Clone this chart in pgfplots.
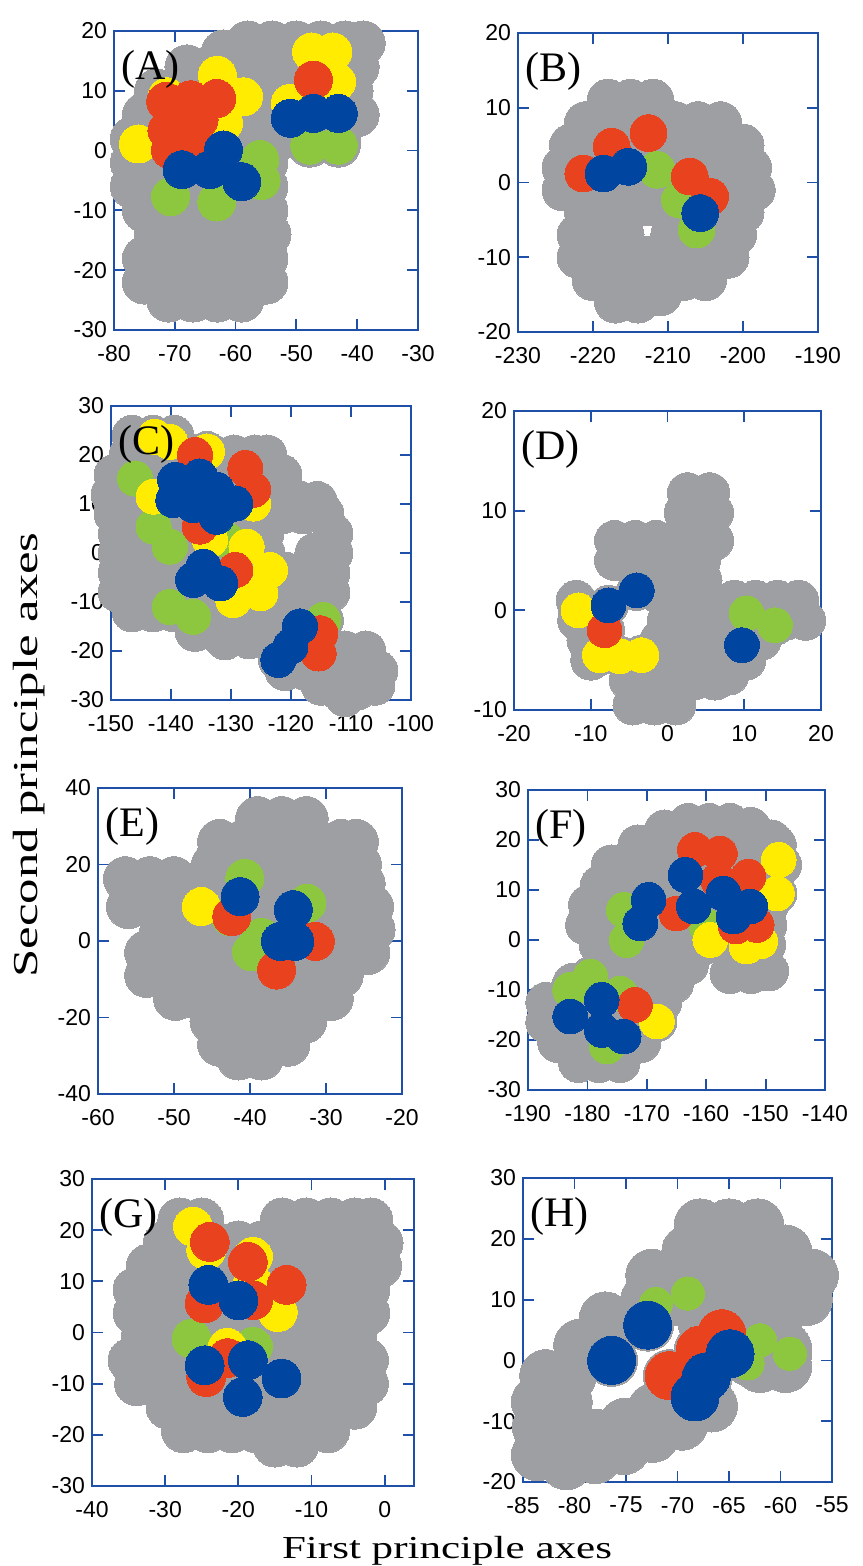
\documentclass[border=0pt]{standalone}
\usepackage{fontspec}
\setmainfont{Liberation Serif}
\setsansfont{Liberation Sans}
\usepackage{graphicx}
\usepackage{pgfplots}
\usepackage{pgfplotstable}
\pgfplotsset{compat=1.18}
\definecolor{cgray}{RGB}{158,159,163}
\definecolor{cyellow}{RGB}{255,236,0}
\definecolor{cred}{RGB}{233,66,30}
\definecolor{cgreen}{RGB}{141,198,63}
\definecolor{cblue}{RGB}{0,70,160}
\definecolor{axisblue}{RGB}{30,80,170}
\pgfplotsset{
  panel/.style={scale only axis, clip=false, anchor=south west,
    axis line style={axisblue, line width=0.9pt},
    tick style={axisblue, line width=0.9pt},
    major tick length=5.5pt, tick align=inside,
    ticklabel style={font=\sffamily\fontsize{11.5}{11.5}\selectfont, black},
    /pgf/number format/assume math mode=true,
    xticklabel style={yshift=-4pt},
    minor tick num=0},
  gdot/.style={only marks, mark=*, mark size=#1, color=cgray, mark options={fill=cgray, draw=cgray, line width=0pt}},
  cdot/.style 2 args={only marks, mark=*, mark size=#2, color=#1, mark options={fill=#1, draw=#1, line width=0pt}},
}
\tikzset{plabel/.style={anchor=north west, inner sep=0pt, xshift=3.5pt, yshift=-9.5pt, font=\fontsize{21}{21}\selectfont}}
% ---------------- Panel A
\pgfplotstableread{
x y
-62 16.5
-58 18
-54 18
-50 18
-46 18
-42 18
-39 18
-68 14
-64 14
-60 14
-56 14
-52 14
-48 14
-44 14
-40 14
-73 10
-69 10
-65 10
-61 10
-57 10
-53 10
-49 10
-45 10
-41 10
-75 6
-71 6
-67 6
-63 6
-59 6
-55 6
-51 6
-47 6
-43 6
-40 6
-77 2
-73 2
-69 2
-65 2
-61 2
-57 2
-53 2
-49 2
-45 2
-43 2
-77 -2
-73 -2
-69 -2
-65 -2
-61 -2
-57 -2
-55 -2
-77 -6
-73 -6
-69 -6
-65 -6
-61 -6
-57 -6
-55 -6
-75 -10
-71 -10
-67 -10
-63 -10
-59 -10
-55 -10
-73 -14
-69 -14
-65 -14
-61 -14
-57 -14
-54.5 -14
-75 -18
-71 -18
-67 -18
-63 -18
-59 -18
-55 -18
-75 -22
-71 -22
-67 -22
-63 -22
-59 -22
-55 -22
-71 -25
-67 -25
-63 -25
-59 -25
}\Agray
\pgfplotstableread{
x y
-70.7 -7.7
-63.1 -8.6
-56 -1.5
-55.8 -5
-47.8 0.9
-43.1 0.9
}\Agreen
\pgfplotstableread{
x y
-76 1.1
-71.3 9
-63 12.6
-58.7 9
-62 4.6
-47.5 16.5
-44 16.5
-51 7.9
-43.4 11.5
}\Ayellow
\pgfplotstableread{
x y
-71.5 8.2
-67.4 8.5
-63.1 8.7
-71.3 3.4
-70.7 0.1
-67.4 1.8
-66 5.2
-47.2 11.8
}\Ared
\pgfplotstableread{
x y
-68.8 -3.2
-64.2 -3.2
-62 0.1
-59 -5.2
-51 5.4
-47.2 6.2
-43.1 6.2
}\Ablue
% ---------------- Panel B
\pgfplotstableread{
x y
-218 11
-215 11
-212 11
-221 8
-218 8
-215 8
-212 8
-209 8
-206 8
-203 8
-223 5
-220 5
-217 5
-214 5
-211 5
-208 5
-205 5
-202 5
-200 5
-224 2
-221 2
-218 2
-215 2
-212 2
-209 2
-206 2
-203 2
-200 2
-199 2
-224 -1
-221 -1
-218 -1
-215 -1
-212 -1
-209 -1
-206 -1
-203 -1
-200 -1
-198.5 -1
-221 -4
-218 -4
-215.5 -4
-212.5 -3
-209.5 -4
-206.5 -4
-203.5 -4
-200 -4
-222 -7
-219 -7
-216 -7
-209.5 -7
-206.5 -7
-203.5 -7
-201 -7
-222 -10
-219 -10
-216 -10
-213 -10
-210 -10
-207 -10
-204 -10
-202 -10
-220 -13
-217 -13
-214 -13
-211 -13
-208 -13
-205 -13
-217 -16
-214 -16
-211 -15
}\Bgray
\pgfplotstableread{
x y
-211.5 1.7
-208.4 -2.3
-206.2 -6.3
}\Bgreen
\pgfplotstableread{
x y
-212.6 6.6
-217.5 4.8
-221.3 1.2
-207.1 0.8
-204.4 -1.9
}\Bred
\pgfplotstableread{
x y
-218.6 1.2
-215.3 2.1
-205.7 -4.1
}\Bblue
% ---------------- Panel C
\pgfplotstableread{
x y
-146.5 24
-143 24
-139.5 24
-147 20
-143.5 20
-140 20
-136.5 20
-133 20
-129.5 20
-126 20
-124 20
-149.5 16
-146 16
-142.5 16
-139 16
-135.5 16
-132 16
-128.5 16
-125 16
-121.5 16
-150 12
-146.5 12
-143 12
-139.5 12
-136 12
-132.5 12
-129 12
-125.5 12
-122 12
-118.5 10.5
-115.6 10.5
-149.5 8
-146 8
-142.5 8
-139 8
-135.5 8
-132 8
-128.5 8
-125 8
-121.5 8
-118 8
-114.5 8
-148.8 4
-145.5 4
-142 4
-138.5 4
-135 4
-131.5 4
-128 4
-124.5 4
-113 4
-148.8 0
-145.3 0
-141.8 0
-138.3 0
-134.8 0
-131.3 0
-127.8 0
-124.3 0
-116 0
-113 0
-148.8 -4
-145.3 -4
-141.8 -4
-138.3 -4
-134.8 -4
-131.3 -4
-127.8 -4
-124.3 -4
-120.8 -4
-117.3 -4
-113.5 -4
-148.8 -8
-145.3 -8
-141.8 -8
-138.3 -8
-134.8 -8
-131.3 -8
-127.8 -8
-124.3 -8
-120.8 -8
-117.3 -8
-113.5 -8
-146.5 -12
-143 -12
-139.5 -12
-136 -12
-132.5 -12
-129 -12
-125.5 -12
-122 -12
-118.5 -12
-115 -12
-136 -16
-132.5 -16
-129 -16
-125.5 -16
-122 -16
-118.5 -16
-115 -16
-131 -17.7
-127 -17.5
-121.5 -20
-118 -20
-114.5 -20
-111 -20
-107.5 -20
-121 -24
-117.5 -24
-114 -24
-110.5 -24
-107 -24
-105.5 -24
-115 -27
-112 -28
-109 -28
-106 -27
-111 -29.3
}\Cgray
\pgfplotstableread{
x y
-146 15.2
-142.9 5.4
-140.2 1.3
-130.7 2.7
-140.2 -11
-136.3 -13
-114.6 -13.7
}\Cgreen
\pgfplotstableread{
x y
-142.7 23.7
-140.2 22.7
-134 20.7
-126.3 10.1
-142.9 11.5
-133.5 2.7
-127.4 1.3
-123.5 -3.5
-129.6 -9.6
-125.1 -8.2
}\Cyellow
\pgfplotstableread{
x y
-136 20
-127.6 17.3
-126.3 12.9
-135.2 5.4
-129.3 -3.5
-115.1 -16.4
-115.4 -20.5
}\Cred
\pgfplotstableread{
x y
-139.3 14.9
-135.2 15.6
-139.6 10.8
-136.3 9.8
-132.4 7.4
-129.3 10.1
-132.4 12.9
-136.3 -5.5
-131.8 -6.2
-134.6 -2.8
-118.5 -15
-120.1 -19.1
-122.1 -21.8
}\Cblue
% ---------------- Panel D
\pgfplotstableread{
x y
2.6 11.8
5.5 11.8
2.2 9.8
5 9.8
6 9.8
-6.9 7
-4.2 7
-1.5 7
1.3 7
4 7
6 7
-6.9 5
-4.2 5
-1.5 5
2.3 5
4.3 5
2.5 3
4.5 3
-0.8 1.5
-11.9 1
1.5 1
4.3 1
8.7 1
11.5 1
14.3 1
17.1 1
-11.7 -1
0 -1
1.5 -1
4.3 -1
7 -1
9.8 -1
12.6 -1
15.4 -1
18 -1
-10.5 -3
-1 -3
1 -3
3.8 -3
6.6 -3
9.4 -3
12.2 -3
-10 -5
-1 -5
1.8 -5
4.6 -5
7.4 -5
10.2 -5
-5 -7
-2.2 -7
0.6 -7
3.4 -7
6.2 -7
8 -6.5
-4.5 -9.5
-1.7 -9.5
1.1 -9.5
}\Dgray
\pgfplotstableread{
x y
10.3 -0.3
14 -1.5
}\Dgreen
\pgfplotstableread{
x y
-11.6 0
-8.8 -4.5
-6.2 -4.6
-3.4 -4.5
}\Dyellow
\pgfplotstableread{
x y
-8.2 -2
}\Dred
\pgfplotstableread{
x y
-7.7 0.5
-4 2
9.7 -3.5
}\Dblue
% ---------------- Panel E
\pgfplotstableread{
x y
-39 32
-35.8 32
-32.6 32
-44 26
-40.8 26
-37.6 26
-34.4 26
-31.2 26
-28 26
-26 26
-44.8 20
-41.6 20
-38.4 20
-35.2 20
-32 20
-28.8 20
-25.6 20
-56.4 16.3
-53.2 16.3
-50 16.3
-46.8 15
-43.6 15
-40.4 15
-37.2 15
-34 15
-30.8 15
-27.6 15
-25.1 15
-56 9
-52.8 9
-49.6 9
-46.4 9
-43.2 9
-40 9
-36.8 9
-33.6 9
-30.4 9
-27.2 9
-24 9
-51.6 3
-48.4 3
-45.2 3
-42 3
-38.8 3
-35.6 3
-32.4 3
-29.2 3
-26 3
-23.8 3
-53.6 -3
-50.4 -3
-47.2 -3
-44 -3
-40.8 -3
-37.6 -3
-34.4 -3
-31.2 -3
-28 -3
-24.5 -3
-53.6 -9
-50.4 -9
-47.2 -9
-44 -9
-40.8 -9
-37.6 -9
-34.4 -9
-31.2 -9
-28 -9
-49.8 -15
-46.6 -15
-43.4 -15
-40.2 -15
-37 -15
-33.8 -15
-30.6 -15
-29.3 -15
-45 -21
-41.8 -21
-38.6 -21
-35.4 -21
-32.8 -21
-44 -27
-40.8 -27
-37.6 -27
-35 -27
-41.5 -30.6
-38.5 -30.6
}\Egray
\pgfplotstableread{
x y
-40.7 16.4
-42.6 6.4
-32.5 9.9
-39.8 -2.8
-38.5 1
}\Egreen
\pgfplotstableread{
x y
-46.4 9
}\Eyellow
\pgfplotstableread{
x y
-42.4 6.4
-31.4 -0.1
-36.5 -7.6
}\Ered
\pgfplotstableread{
x y
-41.3 11.6
-34.3 8.2
-36 -0.1
-34.1 -0.1
}\Eblue
% ---------------- Panel F
\pgfplotstableread{
x y
-167 22
-163 23.3
-159.5 23.3
-156 23.3
-152.5 22.5
-149 20
-171.5 19
-169.8 19
-166.3 19
-162.8 19
-159.3 19
-155.8 19
-152.3 19
-148.2 19
-176 15
-172.5 15
-169 15
-165.5 15
-162 15
-158.5 15
-155 15
-151.5 15
-147.3 15
-177.8 11
-174.3 11
-170.8 11
-167.3 11
-163.8 11
-160.3 11
-156.8 11
-153.3 11
-149.8 11
-148.7 11
-179.8 7
-176.3 7
-172.8 7
-169.3 7
-165.8 7
-162.3 7
-158.8 7
-155.3 7
-151.8 7
-149.5 7
-180.3 3
-176.8 3
-173.3 3
-169.8 3
-166.3 3
-162.8 3
-159.3 3
-155.8 3
-152.3 3
-149.8 3
-178 -1
-174.5 -1
-171 -1
-167.5 -1
-164 -1
-160.5 -1
-157 -1
-153.5 -1
-150 -1
-177 -5
-173.5 -5
-170 -5
-166.5 -5
-163 -5
-156 -6.7
-152.5 -6.7
-149.5 -6.2
-182.5 -8.7
-179 -8.7
-175.5 -8.7
-172 -8.7
-168.5 -8.7
-165.5 -8.7
-187 -12.5
-183.5 -12.5
-180 -12.5
-176.5 -12.5
-173 -12.5
-169.5 -12.5
-167.5 -12.5
-187 -16.5
-183.5 -16.5
-180 -16.5
-176.5 -16.5
-173 -16.5
-169.5 -16.5
-185 -20.5
-181.5 -20.5
-178 -20.5
-174.5 -20.5
-171 -20.5
-181.5 -24.5
-178 -24.5
-174.5 -24.5
}\Fgray
\pgfplotstableread{
x y
-173.9 6
-173.4 0
-159.9 2.7
-182.9 -10
-179.5 -7.3
-174.5 -10.7
-176.7 -21.3
}\Fgreen
\pgfplotstableread{
x y
-147.8 16
-148.1 9.3
-159.3 0
-153.2 -1.3
-150.9 -0.3
-168.3 -16.3
}\Fyellow
\pgfplotstableread{
x y
-161.9 18
-157.7 17.3
-152.9 12.7
-165 5.3
-151.5 3
-155 2.7
-172 -13
-158 12
}\Fred
\pgfplotstableread{
x y
-163.5 13
-169.7 8
-171.1 3.3
-162.1 6.7
-157.1 9.3
-152.6 6.7
-155.4 4.7
-182.9 -15.3
-177.6 -12
-177.6 -18
-173.9 -19.3
}\Fblue
% ---------------- Panel G
\pgfplotstableread{
x y
-28 22
-25 22
-14 22
-10.7 22
-7.4 22
-4.1 22
-1.9 22
-30 17.5
-26.7 17.5
-23.4 17.5
-20 17.5
-16.8 17.5
-13.5 17.5
-10.2 17.5
-6.9 17.5
-3.6 17.5
-0.5 17.5
-32.3 13
-29 13
-25.7 13
-22.4 13
-19.1 13
-15.8 13
-12.5 13
-9.2 13
-5.9 13
-2.6 13
-0.7 13
-34.1 8.4
-30.8 8.4
-27.5 8.4
-24.2 8.4
-20.9 8.4
-17.6 8.4
-14.3 8.4
-11 8.4
-7.7 8.4
-4.4 8.4
-2.3 8.4
-34.1 3.8
-30.8 3.8
-27.5 3.8
-24.2 3.8
-20.9 3.8
-17.6 3.8
-14.3 3.8
-11 3.8
-7.7 3.8
-4.4 3.8
-2.3 3.8
-33 -0.8
-29.7 -0.8
-26.4 -0.8
-23.1 -0.8
-19.8 -0.8
-16.5 -0.8
-13.2 -0.8
-9.9 -0.8
-6.6 -0.8
-4.1 -0.8
-34.8 -5.4
-31.5 -5.4
-28.2 -5.4
-24.9 -5.4
-21.6 -5.4
-18.3 -5.4
-15 -5.4
-11.7 -5.4
-8.4 -5.4
-5.1 -5.4
-2.5 -5.4
-33.9 -10
-30.6 -10
-27.3 -10
-24 -10
-20.7 -10
-17.4 -10
-14.1 -10
-10.8 -10
-7.5 -10
-4.2 -10
-2.5 -10
-29.6 -14.6
-26.3 -14.6
-23 -14.6
-19.7 -14.6
-16.4 -14.6
-13.1 -14.6
-9.8 -14.6
-6.5 -14.6
-4.1 -14.6
-27.5 -19.2
-24.2 -19.2
-20.9 -19.2
-17.6 -19.2
-14.3 -19.2
-11 -19.2
-7.8 -19.2
-15 -22
-12 -22
}\Ggray
\pgfplotstableread{
x y
-26.4 -1.2
-18 -2.8
}\Ggreen
\pgfplotstableread{
x y
-26.2 20.7
-24.4 16.1
-18 14.8
-14.6 4
-18 9.6
-21.5 -3
}\Gyellow
\pgfplotstableread{
x y
-23.9 17.7
-18.7 13.8
-13.4 9.3
-24.6 5.7
-18 6.3
-24.4 -8.7
-21.5 -5
}\Gred
\pgfplotstableread{
x y
-24.1 9.3
-20 6.3
-24.6 -6.4
-18.7 -5.4
-14.1 -9
-19.4 -12.6
}\Gblue
% ---------------- Panel H
\pgfplotstableread{
x y
-67.8 22.3
-65 22.3
-62.2 22.3
-69 18
-66.2 18
-63.4 18
-60.6 18
-59.5 18
-72.5 14
-69.7 14
-66.9 14
-64.1 14
-61.3 14
-58.5 14
-56.9 14
-73 10
-70.2 10
-67.4 10
-61.8 10
-59 10
-57.5 10
-76.4 6
-67.4 6
-64.6 6
-61.8 6
-60.5 6
-63 2
-60.5 2
-59.5 2
-62 -1
-59.5 -1
-79.5 2.5
-77 7
-82.8 -2.5
-80.4 -2.5
-83.6 -6.8
-80.8 -6.8
-83.5 -11
-80.7 -11.5
-77.9 -12.3
-75.1 -10.5
-72.3 -8
-69.5 -8
-66.7 -7.5
-83.6 -15.5
-80.8 -17
-78 -16
-75.2 -14.5
-72.4 -12.5
-69.6 -10.5
}\Hgray
\pgfplotstableread{
x y
-69 11
-72.1 9.3
-62 3.3
-59.1 1.1
-63.2 -0.5
}\Hgreen
\pgfplotstableread{
x y
-70.8 -2.5
-65.7 4.4
-67.8 1.7
}\Hred
\pgfplotstableread{
x y
-76.4 0
-72.9 5.8
-68.3 -6
-67.2 -2.7
-64.9 1.1
}\Hblue
\begin{document}
\begin{tikzpicture}
\useasboundingbox (0,0) rectangle (431pt,783pt);
% A
\begin{axis}[panel, name=pA, at={(57pt,618pt)}, width=152pt, height=149.5pt,
  xmin=-80, xmax=-30, ymin=-30, ymax=20,
  xtick={-80,-70,...,-30}, ytick={-30,-20,...,20}]
\addplot[gdot=11pt] table {\Agray};
\addplot[gdot=11pt] table {\Agreen};
\addplot[gdot=11pt] table {\Ayellow};
\addplot[gdot=11pt] table {\Ared};
\addplot[gdot=11pt] table {\Ablue};
\addplot[cdot={cgreen}{9.5pt}] table {\Agreen};
\addplot[cdot={cyellow}{9.5pt}] table {\Ayellow};
\addplot[cdot={cred}{9.5pt}] table {\Ared};
\addplot[cdot={cblue}{9.5pt}] table {\Ablue};
\end{axis}
% B
\begin{axis}[panel, name=pB, at={(259pt,617pt)}, width=150pt, height=149.5pt,
  xmin=-230, xmax=-190, ymin=-20, ymax=20,
  xtick={-230,-220,...,-190}, ytick={-20,-10,...,20}]
\addplot[gdot=10.5pt] table {\Bgray};
\addplot[gdot=10.5pt] table {\Bgreen};
\addplot[gdot=10.5pt] table {\Bred};
\addplot[gdot=10.5pt] table {\Bblue};
\addplot[cdot={cgreen}{9.2pt}] table {\Bgreen};
\addplot[cdot={cred}{9.2pt}] table {\Bred};
\addplot[cdot={cblue}{9.2pt}] table {\Bblue};
\end{axis}
% C
\begin{axis}[panel, name=pC, at={(55.5pt,433pt)}, width=150pt, height=147pt,
  xmin=-150, xmax=-100, ymin=-30, ymax=30,
  xtick={-150,-140,...,-100}, ytick={-30,-20,...,30}]
\addplot[gdot=10pt] table {\Cgray};
\addplot[gdot=10pt] table {\Cgreen};
\addplot[gdot=10pt] table {\Cyellow};
\addplot[gdot=10pt] table {\Cred};
\addplot[gdot=10pt] table {\Cblue};
\addplot[cdot={cgreen}{8.8pt}] table {\Cgreen};
\addplot[cdot={cyellow}{8.8pt}] table {\Cyellow};
\addplot[cdot={cred}{8.8pt}] table {\Cred};
\addplot[cdot={cblue}{8.8pt}] table {\Cblue};
\end{axis}
% D
\begin{axis}[panel, name=pD, at={(257pt,428pt)}, width=153.5pt, height=149.5pt,
  xmin=-20, xmax=20, ymin=-10, ymax=20,
  xtick={-20,-10,...,20}, ytick={-10,0,...,20}]
\addplot[gdot=10pt] table {\Dgray};
\addplot[gdot=10pt] table {\Dgreen};
\addplot[gdot=10pt] table {\Dyellow};
\addplot[gdot=10pt] table {\Dred};
\addplot[gdot=10pt] table {\Dblue};
\addplot[cdot={cgreen}{8.7pt}] table {\Dgreen};
\addplot[cdot={cyellow}{8.7pt}] table {\Dyellow};
\addplot[cdot={cred}{8.7pt}] table {\Dred};
\addplot[cdot={cblue}{8.7pt}] table {\Dblue};
\end{axis}
% E
\begin{axis}[panel, name=pE, at={(49pt,236pt)}, width=152pt, height=153pt,
  xmin=-60, xmax=-20, ymin=-40, ymax=40,
  xtick={-60,-50,...,-20}, ytick={-40,-20,...,40}]
\addplot[gdot=11pt] table {\Egray};
\addplot[gdot=11pt] table {\Egreen};
\addplot[gdot=11pt] table {\Eyellow};
\addplot[gdot=11pt] table {\Ered};
\addplot[gdot=11pt] table {\Eblue};
\addplot[cdot={cgreen}{9.5pt}] table {\Egreen};
\addplot[cdot={cyellow}{9.5pt}] table {\Eyellow};
\addplot[cdot={cred}{9.5pt}] table {\Ered};
\addplot[cdot={cblue}{9.5pt}] table {\Eblue};
\end{axis}
% F
\begin{axis}[panel, name=pF, at={(264pt,238pt)}, width=148.5pt, height=150pt,
  xmin=-190, xmax=-140, ymin=-30, ymax=30,
  xtick={-190,-180,...,-140}, ytick={-30,-20,...,30}]
\addplot[gdot=10pt] table {\Fgray};
\addplot[gdot=10pt] table {\Fgreen};
\addplot[gdot=10pt] table {\Fyellow};
\addplot[gdot=10pt] table {\Fred};
\addplot[gdot=10pt] table {\Fblue};
\addplot[cdot={cgreen}{8.7pt}] table {\Fgreen};
\addplot[cdot={cyellow}{8.7pt}] table {\Fyellow};
\addplot[cdot={cred}{8.7pt}] table {\Fred};
\addplot[cdot={cblue}{8.7pt}] table {\Fblue};
\end{axis}
% G
\begin{axis}[panel, name=pG, at={(46pt,40pt)}, width=161pt, height=153.5pt,
  xmin=-40, xmax=4, ymin=-30, ymax=30,
  xtick={-40,-30,...,0}, ytick={-30,-20,...,30}]
\addplot[gdot=11pt] table {\Ggray};
\addplot[gdot=11pt] table {\Ggreen};
\addplot[gdot=11pt] table {\Gyellow};
\addplot[gdot=11pt] table {\Gred};
\addplot[gdot=11pt] table {\Gblue};
\addplot[cdot={cgreen}{9.7pt}] table {\Ggreen};
\addplot[cdot={cyellow}{9.7pt}] table {\Gyellow};
\addplot[cdot={cred}{9.7pt}] table {\Gred};
\addplot[cdot={cblue}{9.7pt}] table {\Gblue};
\end{axis}
% H
\begin{axis}[panel, name=pH, at={(261.5pt,42pt)}, width=154.5pt, height=152pt,
  xmin=-85, xmax=-55, ymin=-20, ymax=30,
  xtick={-85,-80,...,-55}, ytick={-20,-10,...,30}]
\addplot[gdot=13pt] table {\Hgray};
\addplot[gdot=11pt] table {\Hgreen};
\addplot[gdot=13pt] table {\Hred};
\addplot[gdot=13pt] table {\Hblue};
\addplot[cdot={cgreen}{8.3pt}] table {\Hgreen};
\addplot[cdot={cred}{12pt}] table {\Hred};
\addplot[cdot={cblue}{12pt}] table {\Hblue};
\end{axis}
\node[plabel] at (pA.north west) {(A)};
\node[plabel] at (pB.north west) {(B)};
\node[plabel] at (pC.north west) {(C)};
\node[plabel] at (pD.north west) {(D)};
\node[plabel] at (pE.north west) {(E)};
\node[plabel] at (pF.north west) {(F)};
\node[plabel] at (pG.north west) {(G)};
\node[plabel] at (pH.north west) {(H)};
\node[font=\fontsize{17.5}{17.5}\selectfont, rotate=90] at (14.5pt,405.5pt) {\scalebox{1.45}[1]{Second principle axes}};
\node[font=\fontsize{16}{16}\selectfont, anchor=base] at (223.5pt,4pt) {\scalebox{1.345}[1]{First principle axes}};
\end{tikzpicture}
\end{document}
